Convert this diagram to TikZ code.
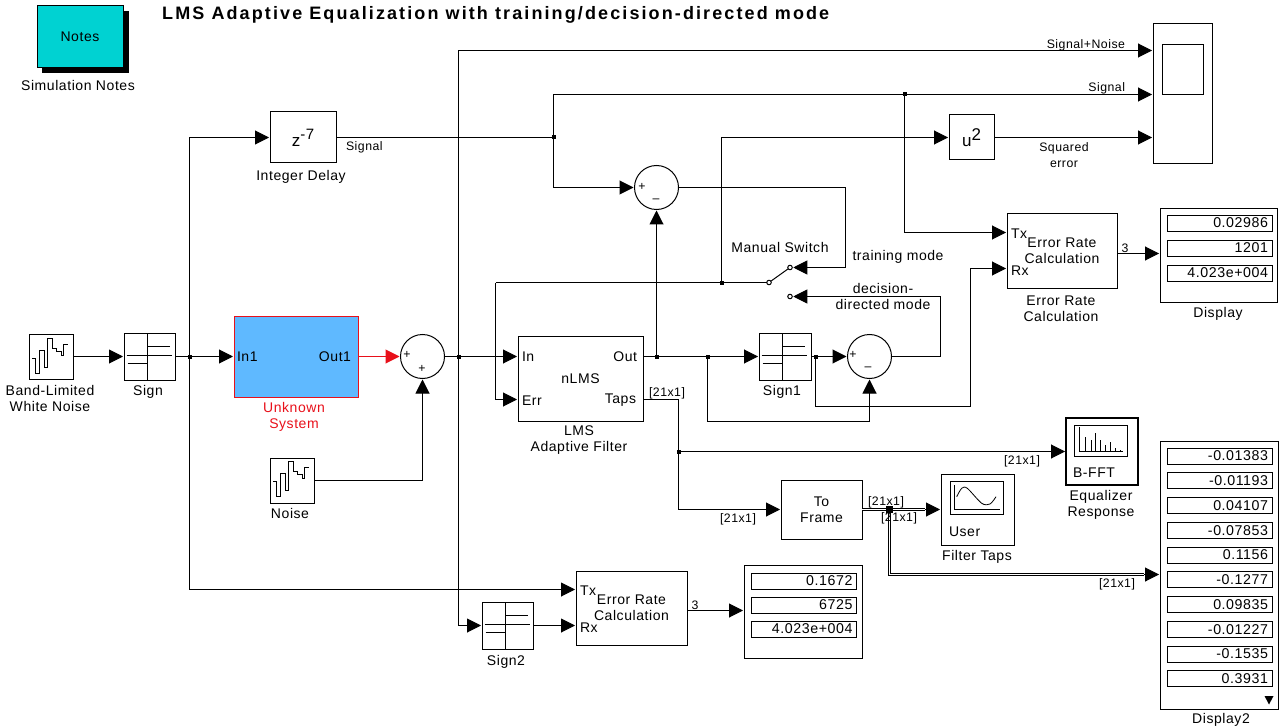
\documentclass[tikz,border=0pt]{standalone}
\usepackage{fontspec}
\setmainfont[LetterSpace=4]{Liberation Sans}
\newfontfamily\titlefont[LetterSpace=11.7]{Liberation Sans}
\usetikzlibrary{arrows.meta}
\definecolor{notecyan}{HTML}{00D2D2}
\definecolor{ukblue}{HTML}{5FB9FF}
\definecolor{ukred}{HTML}{E8101A}
\newcommand{\fa}{\fontsize{14}{16}\selectfont}
\newcommand{\fb}{\fontsize{12.3}{16}\selectfont}
\newcommand{\fc}{\fontsize{14.2}{16}\selectfont}
\tikzset{
  block/.style={draw=black,line width=1pt,inner sep=0pt,outer sep=0pt,align=center,font=\fa},
  sumblk/.style={draw=black,circle,line width=1pt,inner sep=0pt,outer sep=0pt,minimum size=44pt},
  wire/.style={line width=1pt,draw=black},
  arr/.style={wire,-{Triangle[length=14pt,width=14pt]},shorten >=1pt},
  arrred/.style={line width=1pt,draw=ukred,-{Triangle[length=14pt,width=14pt]},shorten >=1pt},
  dblout/.style={line width=3.4pt,draw=black},
  dblin/.style={line width=1.3pt,draw=white},
  jn/.style={fill=black,draw=none,inner sep=0pt,minimum size=4pt,outer sep=0pt},
  lab/.style={inner sep=0pt,outer sep=0pt,align=center,font=\fa,yshift=-1.5pt},
  small/.style={inner sep=0pt,outer sep=0pt,align=center,font=\fb,yshift=-1.5pt},
  port/.style={inner sep=0pt,outer sep=0pt,font=\fa,yshift=-1pt},
  fieldbox/.style={draw=black,line width=0.9pt,inner sep=0pt,outer sep=0pt,minimum width=105pt,minimum height=16pt,text width=97pt,align=right,font=\fc},
  contact/.style={draw=black,fill=white,circle,line width=1pt,inner sep=0pt,minimum size=4.5pt,outer sep=0pt},
  icon/.style={line width=1pt,draw=black}
}
\newcommand{\blk}[7][]{%
  \pgfmathsetmacro{\myw}{#5-#3}\pgfmathsetmacro{\myh}{#6-#4}%
  \pgfmathsetmacro{\mycx}{(#3+#5)/2}\pgfmathsetmacro{\mycy}{(#4+#6)/2}%
  \node[block,minimum width=\myw pt,minimum height=\myh pt,#1] (#2) at (\mycx,\mycy) {#7};}
\newcommand{\signicon}[2]{%
  \begin{scope}[shift={(#1,#2)}]
    \draw[icon] (-1.8,-23.5) -- (-1.8,23.5);
    \draw[icon] (-23,-1) -- (22,-1);
    \draw[icon] (-1.8,-10.5) -- (20,-10.5);
    \draw[icon] (-22,6.8) -- (-1.8,6.8);
  \end{scope}}
\newcommand{\noiseicon}[2]{%
  \begin{scope}[shift={(#1,#2)}]
    \draw[icon] (-18.7,1.3) -- (-16,1.3) -- (-16,16.3) -- (-11.7,16.3) -- (-11.7,-7) -- (-7,-7) -- (-7,10.3) -- (-4,10.3) -- (-4,-18.7) -- (1.7,-18.7) -- (1.7,-8.7) -- (5.7,-8.7) -- (5.7,-5.3) -- (10.7,-5.3) -- (10.7,-2) -- (12.3,-2) -- (12.3,-13) -- (16.7,-13);
  \end{scope}}
\begin{document}
\begin{tikzpicture}[x=1pt,y=-1pt]
\useasboundingbox (0,0) rectangle (1281,727);
% title
\node[anchor=west,inner sep=0pt,font=\titlefont\fontsize{18}{18}\selectfont\bfseries] (title) at (162,15) {LMS Adaptive Equalization with training/decision-directed mode};
% notes
\fill[black] (42,11) rectangle (129,73);
\blk[fill=notecyan]{notes}{37}{6}{123}{68}{Notes}
\node[lab] (lbNotes) at (78,84) {Simulation Notes};
% source blocks
\blk{bln}{29}{334}{73}{379}{}
\noiseicon{51}{357}
\node[lab] (lbBln) at (50,397) {Band-Limited\\White Noise};
\blk{sign}{124}{333}{175}{380}{}
\signicon{149.5}{356.5}
\node[lab] (lbSign) at (148,390) {Sign};
\blk[fill=ukblue,draw=ukred]{uk}{234}{316}{358}{397}{}
\node[port,anchor=west] (pIn1) at (237,356) {In1};
\node[port,anchor=east] (pOut1) at (351,356) {Out1};
\node[lab,text=ukred] (lbUk) at (294,415) {Unknown\\System};
\node[sumblk] (sum1) at (422.5,356.5) {};
\node[font=\fb,inner sep=0pt] (sa) at (407,355) {+};
\node[font=\fb,inner sep=0pt] (sb) at (422,369) {+};
\blk{noise}{270}{458}{314}{503}{}
\noiseicon{292}{480}
\node[lab] (lbNoise) at (290,512) {Noise};
\blk{delay}{270}{112}{336}{163}{\fontsize{17}{16}\selectfont z\raisebox{7pt}{\fontsize{15}{16}\selectfont -7}}
\node[lab] (lbDelay) at (301,175) {Integer Delay};
\node[small,anchor=west] (lbSig1) at (346,146) {Signal};
% adaptive filter
\blk{lms}{518}{336}{643}{421}{nLMS}
\node[port,anchor=west] (pIn) at (522,356) {In};
\node[port,anchor=west] (pErr) at (522,399.5) {Err};
\node[port,anchor=east] (pOut) at (637,356) {Out};
\node[port,anchor=east] (pTaps) at (636,399.5) {Taps};
\node[lab] (lbLms) at (579,439) {LMS\\Adaptive Filter};
\node[sumblk] (sum2) at (656.5,187.5) {};
\node[font=\fb,inner sep=0pt] (sc) at (642,187) {+};
\node[font=\fb,inner sep=0pt] (sd) at (656,201) {--};
\blk{sign1}{759}{333}{811}{380}{}
\signicon{784.5}{356.5}
\node[lab] (lbSign1) at (782,390) {Sign1};
\node[sumblk] (sum3) at (869.5,356.5) {};
\node[font=\fb,inner sep=0pt] (se) at (853,355) {+};
\node[font=\fb,inner sep=0pt] (sf) at (868,369) {--};
% switch
\node[contact] (swC) at (769,282.5) {};
\node[contact] (swT) at (790,267.5) {};
\node[contact] (swD) at (790,296.5) {};
\draw[wire] (swC) -- (swT);
\node[lab] (lbSw) at (780,246) {Manual Switch};
\node[lab] (lbTm) at (898,255) {training mode};
\node[lab] (lbDd) at (883,295) {decision-\\directed mode};
% scope
\blk{scope}{1153}{24}{1212}{164}{}
\draw[icon] (1162,45) rectangle (1203,95);
\blk{usq}{949}{115}{994}{160}{\fontsize{17}{16}\selectfont u\raisebox{6pt}{2}}
\node[small] (lbSq) at (1064,154) {Squared\\error};
\node[small,anchor=east] (lbSn) at (1125,44) {Signal+Noise};
\node[small,anchor=east] (lbS2) at (1125,87) {Signal};
% error rate 1
\blk{er1}{1007}{214}{1117}{288}{Error Rate\\Calculation}
\node[port,anchor=west] (pTx1) at (1011,233) {Tx};
\node[port,anchor=west] (pRx1) at (1011,270) {Rx};
\node[lab] (lbEr1) at (1061,307) {Error Rate\\Calculation};
\node[small] (lb3a) at (1125,247) {3};
\blk{disp1}{1160}{209}{1277}{302}{}
\node[fieldbox] (d1a) at (1219.5,223) {0.02986};
\node[fieldbox] (d1b) at (1219.5,248) {1201};
\node[fieldbox] (d1c) at (1219.5,273) {4.023e+004};
\node[lab] (lbDisp) at (1218,312) {Display};
% taps sinks
\blk[line width=2.5pt]{bfft}{1066}{418}{1138}{485}{}
\draw[icon,line width=0.8pt] (1074.3,425) rectangle (1127.3,456);
\draw[icon,line width=0.7pt] (1079,427) -- (1079,451.7) -- (1123,451.7);
\foreach \sx/\sy in {1085.7/436.7,1091/440,1095/432.7,1100/440,1105/445,1110/441.7,1115/448.3,1120/450}{
  \draw[icon,line width=0.7pt] (\sx,451.7) -- (\sx,\sy);}
\node[port,anchor=west] (pBfft) at (1073,472) {B-FFT};
\node[lab] (lbEq) at (1101,503) {Equalizer\\Response};
\blk{toframe}{781}{480}{862}{539}{To\\Frame}
\blk{filt}{941}{474}{1014}{545}{}
\draw[icon] (950,481.7) rectangle (1003.3,514.3);
\draw[icon] (954.3,485) -- (954.3,509.3) -- (1000,509.3);
\draw[icon,line width=0.8pt] plot[smooth] coordinates {(956.7,496.7) (961.7,488.3) (967.3,488.3) (981.7,503.3) (990,504) (996,496.7)};
\node[port,anchor=west] (pUser) at (949,531) {User};
\node[lab] (lbFilt) at (977,555) {Filter Taps};
% display 2
\blk{disp2}{1160}{441}{1278}{709}{}
\node[fieldbox] (f1) at (1219.5,456) {-0.01383};
\node[fieldbox] (f2) at (1219.5,480.7) {-0.01193};
\node[fieldbox] (f3) at (1219.5,505.5) {0.04107};
\node[fieldbox] (f4) at (1219.5,530.2) {-0.07853};
\node[fieldbox] (f5) at (1219.5,555) {0.1156};
\node[fieldbox] (f6) at (1219.5,579.7) {-0.1277};
\node[fieldbox] (f7) at (1219.5,604.5) {0.09835};
\node[fieldbox] (f8) at (1219.5,629.2) {-0.01227};
\node[fieldbox] (f9) at (1219.5,654) {-0.1535};
\node[fieldbox] (f10) at (1219.5,678.7) {0.3931};
\fill[black] (1264.5,696) -- (1273.5,696) -- (1269,704.5) -- cycle;
\node[lab] (lbDisp2) at (1221,718) {Display2};
% bottom row
\blk{sign2}{482}{602}{533}{649}{}
\signicon{507.5}{625.5}
\node[lab] (lbSign2) at (506,660) {Sign2};
\blk{er2}{576}{571}{687}{645}{Error Rate\\Calculation}
\node[port,anchor=west] (pTx2) at (580,590) {Tx};
\node[port,anchor=west] (pRx2) at (580,627) {Rx};
\node[small] (lb3b) at (695,604) {3};
\blk{disp3}{744}{565}{862}{658}{}
\node[fieldbox] (d3a) at (804,581) {0.1672};
\node[fieldbox] (d3b) at (804,605) {6725};
\node[fieldbox] (d3c) at (804,629) {4.023e+004};
% coordinates
\coordinate (j1) at (189.5,356.5);
\coordinate (j2) at (458.5,356.5);
\coordinate (j3) at (553.5,137.5);
\coordinate (j4) at (904.5,94.5);
\coordinate (j5) at (721.5,282.5);
\coordinate (j6) at (656.5,356.5);
\coordinate (j7) at (707.5,356.5);
\coordinate (j8) at (815.5,356.5);
\coordinate (j9) at (678.5,451.5);
\coordinate (j10) at (889.5,509.5);
\coordinate (sc1) at (1153,50.5);
\coordinate (sc2) at (1153,94.5);
\coordinate (sc3) at (1153,137.5);
\coordinate (tx1) at (1007,232.5);
\coordinate (rx1) at (1007,268.5);
\coordinate (tx2) at (576,589.5);
\coordinate (rx2) at (576,625.5);
\coordinate (lIn) at (518,356.5);
\coordinate (lOut) at (643,356.5);
\coordinate (lErr) at (518,399.5);
\coordinate (lTaps) at (643,399.5);
\coordinate (c1) at (845.5,267.5);
\coordinate (c2) at (940.5,296.5);
\coordinate (c3) at (869.5,421.5);
\coordinate (c4) at (815.5,406.5);
\coordinate (c5) at (970.5,406.5);
\coordinate (c6) at (678.5,509.5);
\coordinate (c7) at (495.5,282.5);
\coordinate (o1) at (1117,253.5);
\coordinate (i1) at (1160,253.5);
\coordinate (o2) at (687,610.5);
\coordinate (i2) at (744,610.5);
\coordinate (i3) at (1160,574.5);
\coordinate (i4) at (1066,451.5);
\coordinate (e1) at (925,509.5);
\coordinate (e2) at (1144,574.5);
% wires
\draw[arr] (bln.east) -- (sign.west);
\draw[arr] (sign.east) -- (uk.west);
\draw[arr] (j1) |- (delay.west);
\draw[arr] (j1) |- (tx2);
\draw[arrred] (uk.east) -- (sum1.west);
\draw[arr] (noise.east) -| (sum1.south);
\draw[arr] (sum1.east) -- (lIn);
\draw[arr] (j2) |- (sc1);
\draw[arr] (j2) |- (sign2.west);
\draw[arr] (sign2.east) -- (rx2);
\draw[arr] (o2) -- (i2);
\draw[wire] (delay.east) -- (j3);
\draw[arr] (j3) |- (sc2);
\draw[arr] (j3) |- (sum2.west);
\draw[arr] (j4) |- (tx1);
\draw[wire] (sum2.east) -| (c1);
\draw[arr] (c1) -- (swT.east);
\draw[wire] (sum3.east) -| (c2);
\draw[arr] (c2) -- (swD.east);
\draw[wire] (swC.west) -- (c7);
\draw[arr] (c7) |- (lErr);
\draw[arr] (j5) |- (usq.west);
\draw[arr] (usq.east) -- (sc3);
\draw[arr] (lOut) -- (sign1.west);
\draw[arr] (j6) -- (sum2.south);
\draw[wire] (j7) |- (c3);
\draw[arr] (c3) -- (sum3.south);
\draw[arr] (sign1.east) -- (sum3.west);
\draw[wire] (j8) -- (c4) -- (c5);
\draw[arr] (c5) |- (rx1);
\draw[arr] (o1) -- (i1);
\draw[wire] (lTaps) -| (c6);
\draw[arr] (c6) -- (toframe.west);
\draw[arr] (j9) -- (i4);
% bus lines
\draw[dblout] (toframe.east) -- (e1);
\draw[dblout] (j10) |- (e2);
\draw[dblin] (toframe.east) -- (e1);
\draw[dblin] (j10) |- (e2);
\draw[arr] (e1) -- (filt.west);
\draw[arr] (e2) -- (i3);
% junction dots
\node[jn] (d1) at (j1) {};
\node[jn] (d2) at (j2) {};
\node[jn] (d3) at (j3) {};
\node[jn] (d4) at (j4) {};
\node[jn] (d5) at (j5) {};
\node[jn] (d6) at (j6) {};
\node[jn] (d7) at (j7) {};
\node[jn] (d8) at (j8) {};
\node[jn] (d9) at (j9) {};
\node[jn,minimum size=7pt] (d10) at (j10) {};
% size labels
\node[small] (t1) at (667,392) {[21x1]};
\node[small] (t2) at (1022,460) {[21x1]};
\node[small] (t3) at (738,518) {[21x1]};
\node[small] (t4) at (886,501) {[21x1]};
\node[small] (t5) at (899,517) {[21x1]};
\node[small] (t6) at (1117,583) {[21x1]};
\end{tikzpicture}
\end{document}
